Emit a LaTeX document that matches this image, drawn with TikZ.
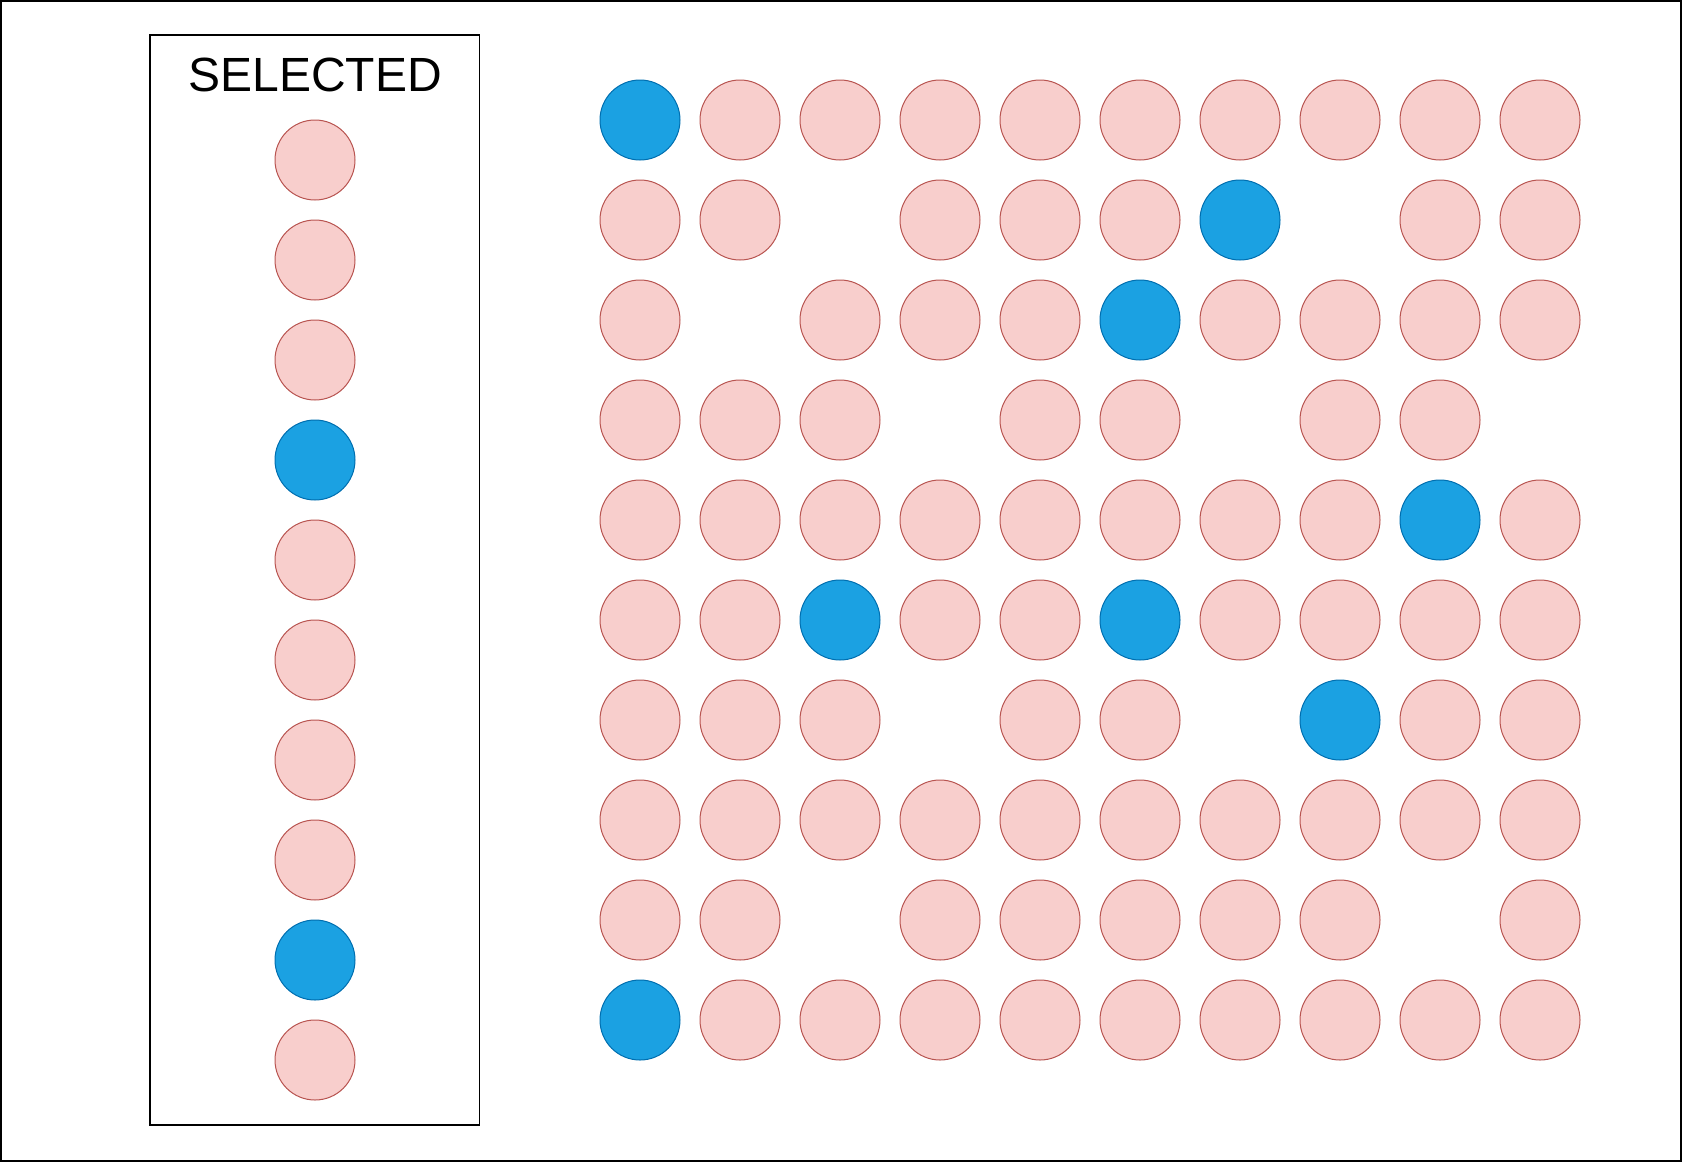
\documentclass[tikz,border=0pt]{standalone}
\usepackage{fontspec}
\setmainfont{Liberation Sans}
\definecolor{pinkfill}{HTML}{F8CECC}
\definecolor{pinkline}{HTML}{B85450}
\definecolor{bluefill}{HTML}{1BA1E2}
\definecolor{blueline}{HTML}{006EAF}
\begin{document}
\begin{tikzpicture}[x=0.5pt,y=-0.5pt,
  cellP/.style={circle,draw=pinkline,fill=pinkfill,line width=0.5pt,minimum size=40pt,inner sep=0pt},
  cellB/.style={circle,draw=blueline,fill=bluefill,line width=0.5pt,minimum size=40pt,inner sep=0pt},
  frame/.style={draw=black,line width=0.75pt},
  boxstyle/.style={frame,rectangle,inner sep=0pt,minimum width=164.75pt,minimum height=545pt},
  titlestyle/.style={font=\fontsize{24}{28}\selectfont,inner sep=0pt}]
\useasboundingbox (0,0) rectangle (1682,1162);
\draw[frame] (1,1) rectangle (1681,1161);
\node[boxstyle] (selbox) at (314.75,580.2) {};
\node[titlestyle] (title) at (315,75) {SELECTED};
% selected column
\foreach \t [count=\i from 0] in {P,P,P,B,P,P,P,P,B,P}{
  \node[cell\t] (s\i) at (315,160+100*\i) {};
}
% grid
\def\tN{N}
\foreach \r/\row in {
  0/{B,P,P,P,P,P,P,P,P,P},
  1/{P,P,N,P,P,P,B,N,P,P},
  2/{P,N,P,P,P,B,P,P,P,P},
  3/{P,P,P,N,P,P,N,P,P,N},
  4/{P,P,P,P,P,P,P,P,B,P},
  5/{P,P,B,P,P,B,P,P,P,P},
  6/{P,P,P,N,P,P,N,B,P,P},
  7/{P,P,P,P,P,P,P,P,P,P},
  8/{P,P,N,P,P,P,P,P,N,P},
  9/{B,P,P,P,P,P,P,P,P,P}}{
  \foreach \t [count=\c from 0] in \row {
    \ifx\t\tN\else
      \node[cell\t] (g\r-\c) at (640+100*\c,120+100*\r) {};
    \fi
  }
}
\end{tikzpicture}
\end{document}
